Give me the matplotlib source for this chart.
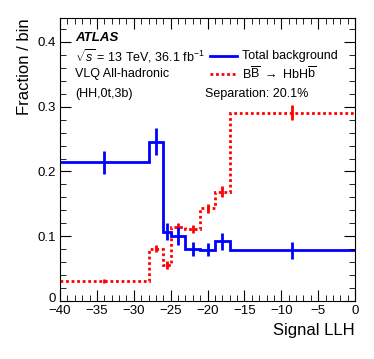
import numpy as np
import matplotlib
matplotlib.use('Agg')
import matplotlib.pyplot as plt
import matplotlib.transforms as mtransforms
from matplotlib.ticker import MultipleLocator

plt.rcParams['font.family'] = ['Liberation Sans', 'DejaVu Sans']
plt.rcParams['mathtext.fontset'] = 'custom'
plt.rcParams['mathtext.rm'] = 'Liberation Sans'
plt.rcParams['mathtext.it'] = 'Liberation Sans:italic'

# bin edges in signal LLH
edges = [-40, -28, -26, -25, -23, -21, -19, -17, 0]
bkg = [0.214, 0.246, 0.107, 0.101, 0.080, 0.079, 0.092, 0.078]
bkg_err = [0.018, 0.021, 0.013, 0.014, 0.011, 0.010, 0.013, 0.013]
sig = [0.031, 0.081, 0.056, 0.115, 0.111, 0.143, 0.169, 0.291]
sig_err = [0.003, 0.006, 0.006, 0.006, 0.006, 0.007, 0.008, 0.011]

centers = 0.5*(np.array(edges[:-1]) + np.array(edges[1:]))

fig = plt.figure(figsize=(3.74, 3.59), dpi=100)
ax = fig.add_axes([60/374, 1-301/359, 295/374, 283/359])

blue = '#0000ff'
red = '#ff0000'
ax.stairs(sig, edges, baseline=None, color=red, lw=2, ls=(0, (1, 1)))
ax.errorbar(centers, sig, yerr=sig_err, fmt='none', ecolor=red, elinewidth=2, ls=':')
ax.stairs(bkg, edges, baseline=None, color=blue, lw=2)
ax.errorbar(centers, bkg, yerr=bkg_err, fmt='none', ecolor=blue, elinewidth=2)

ax.set_xlim(-40, 0)
ax.set_ylim(0, 0.437)
ax.xaxis.set_major_locator(MultipleLocator(5))
ax.xaxis.set_minor_locator(MultipleLocator(1))
ax.yaxis.set_major_locator(MultipleLocator(0.1))
ax.yaxis.set_minor_locator(MultipleLocator(0.02))
ax.tick_params(which='both', direction='in', top=True, right=True, labelsize=9.5, pad=3)
ax.tick_params(which='major', length=8)
ax.tick_params(which='minor', length=4)
ax.set_xticks(np.arange(-40, 1, 5))
ax.set_xticklabels(['\u221240', '\u221235', '\u221230', '\u221225', '\u221220', '\u221215', '\u221210', '\u22125', '0'])
ax.set_yticks([0, 0.1, 0.2, 0.3, 0.4])
ax.set_yticklabels(['0', '0.1', '0.2', '0.3', '0.4'])

# nudge the y "0" up a little so it sits clear of the "-40"
lab0 = ax.get_yticklabels()[0]
lab0.set_transform(lab0.get_transform() + mtransforms.ScaledTranslation(0, 3/100, fig.dpi_scale_trans))

ax.set_xlabel('Signal LLH', fontsize=12, loc='right')
ax.set_ylabel('Fraction / bin', fontsize=12, loc='top')

ax.text(-37.9, 0.406, 'ATLAS', fontsize=9.5, fontweight='bold', fontstyle='italic', va='center')
ax.text(-37.9, 0.378, r'$\sqrt{s}$ = 13 TeV, 36.1 fb$^{-1}$', fontsize=9, va='center')
ax.text(-37.9, 0.350, 'VLQ All-hadronic', fontsize=9, va='center')
ax.text(-37.9, 0.320, '(HH,0t,3b)', fontsize=9, va='center')

ax.plot([-19.7, -16.0], [0.379, 0.379], color=blue, lw=2)
ax.text(-15.3, 0.379, 'Total background', fontsize=9, va='center')
ax.plot([-19.7, -16.0], [0.351, 0.351], color=red, lw=2, ls=(0, (1, 1)))
ax.text(-15.3, 0.351, r'$\mathrm{B\overline{B}\ \rightarrow\ HbH\overline{b}}$', fontsize=9, va='center')
ax.text(-20.3, 0.320, 'Separation: 20.1%', fontsize=9, va='center')

fig.savefig('out.png', dpi=100)
